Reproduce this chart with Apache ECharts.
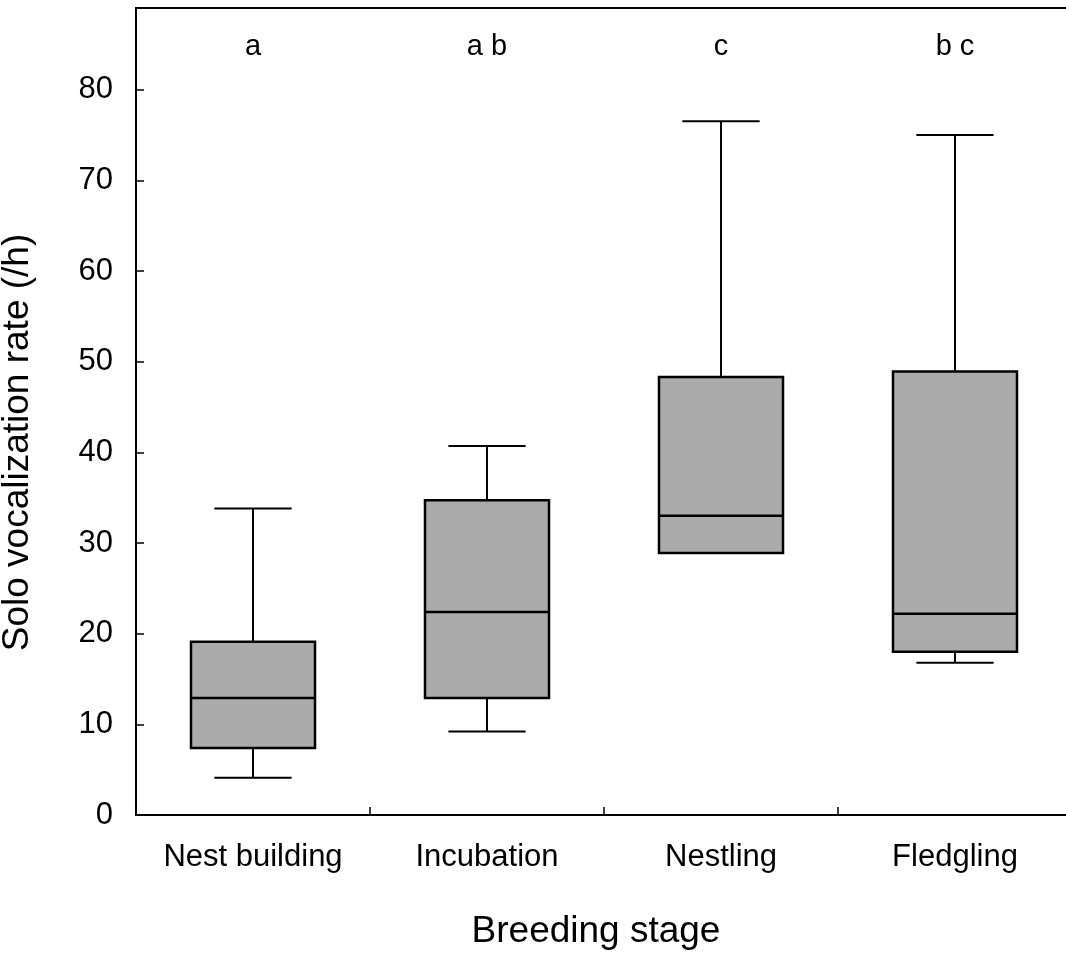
<!DOCTYPE html>
<html>
<head>
<meta charset="utf-8">
<title>Solo vocalization rate by breeding stage</title>
<script src="https://cdn.jsdelivr.net/npm/echarts@6/dist/echarts.min.js"></script>
<style>
  html, body { margin: 0; padding: 0; background: #ffffff; }
  #chart { width: 1066px; height: 953px; }
</style>
</head>
<body>
<div id="chart"></div>
<script>
// Breeding stages along the x axis
const stages = ['Nest building', 'Incubation', 'Nestling', 'Fledgling'];

// Five-number summaries per stage (/h)
const whiskerLow  = [4.1, 9.2, 28.9, 16.8];
const quartile1   = [7.4, 12.9, 28.9, 18.0];
const medians     = [12.9, 22.4, 33.0, 22.2];
const quartile3   = [19.1, 34.7, 48.3, 48.9];
const whiskerHigh = [33.8, 40.7, 76.5, 75.0];

// Post-hoc grouping letters above each stage
const groupLetters = ['a', 'a b', 'c', 'b c'];
const letterLevel = 84.7;

// Y axis tick values
const yTicks = [0, 10, 20, 30, 40, 50, 60, 70, 80];

const FONT = '"Liberation Sans", Arial, Helvetica, sans-serif';

const boxData = stages.map((s, i) => [i, whiskerLow[i], quartile1[i], medians[i], quartile3[i], whiskerHigh[i]]);
const letterData = groupLetters.map((t, i) => [i, letterLevel]);

function renderBox(params, api) {
  const idx = api.value(0);
  const band = api.size([1, 0])[0];
  const cx = api.coord([idx, 0])[0];
  const boxHalf = band * 0.265;
  const capHalf = band * 0.165;
  const yLo = api.coord([idx, api.value(1)])[1];
  const yQ1 = api.coord([idx, api.value(2)])[1];
  const yMed = api.coord([idx, api.value(3)])[1];
  const yQ3 = api.coord([idx, api.value(4)])[1];
  const yHi = api.coord([idx, api.value(5)])[1];
  const line = { stroke: '#000', lineWidth: 2 };
  const children = [];
  // whiskers and caps
  if (yLo - yQ1 > 0.5) {
    children.push({ type: 'line', shape: { x1: cx, y1: yQ1, x2: cx, y2: yLo }, style: line });
    children.push({ type: 'line', shape: { x1: cx - capHalf, y1: yLo, x2: cx + capHalf, y2: yLo }, style: line });
  }
  if (yQ3 - yHi > 0.5) {
    children.push({ type: 'line', shape: { x1: cx, y1: yQ3, x2: cx, y2: yHi }, style: line });
    children.push({ type: 'line', shape: { x1: cx - capHalf, y1: yHi, x2: cx + capHalf, y2: yHi }, style: line });
  }
  // interquartile box
  children.push({
    type: 'rect',
    shape: { x: cx - boxHalf, y: yQ3, width: boxHalf * 2, height: yQ1 - yQ3 },
    style: { fill: '#ababab', stroke: '#000', lineWidth: 2.5 }
  });
  // median
  children.push({ type: 'line', shape: { x1: cx - boxHalf, y1: yMed, x2: cx + boxHalf, y2: yMed }, style: { stroke: '#000', lineWidth: 2.5 } });
  return { type: 'group', children: children };
}

function renderLetter(params, api) {
  const pt = api.coord([api.value(0), api.value(1)]);
  return {
    type: 'text',
    x: pt[0],
    y: pt[1],
    style: {
      text: groupLetters[params.dataIndex],
      fill: '#000',
      fontSize: 29,
      fontFamily: FONT,
      align: 'center',
      verticalAlign: 'middle'
    }
  };
}

const chart = echarts.init(document.getElementById('chart'), null, { renderer: 'canvas' });

chart.setOption({
  animation: false,
  backgroundColor: '#ffffff',
  textStyle: { fontFamily: FONT, color: '#000' },
  grid: { left: 136, right: -6, top: 8, bottom: 138, containLabel: false, outerBoundsMode: 'none' },
  xAxis: [
    {
      type: 'category',
      data: stages,
      position: 'bottom',
      axisLine: { show: true, lineStyle: { color: '#000', width: 2 } },
      axisTick: { show: true, inside: true, length: 8, lineStyle: { color: '#000', width: 1.5 } },
      axisLabel: { color: '#000', fontSize: 31, fontFamily: FONT, margin: 27 },
      splitLine: { show: false },
      name: 'Breeding stage',
      nameLocation: 'middle',
      nameGap: 98,
      nameTextStyle: { color: '#000', fontSize: 37, fontFamily: FONT, padding: [0, 16, 0, 0] }
    },
    {
      type: 'category',
      data: stages,
      position: 'top',
      axisLine: { show: true, lineStyle: { color: '#000', width: 2 } },
      axisTick: { show: false },
      axisLabel: { show: false },
      splitLine: { show: false }
    }
  ],
  yAxis: {
    type: 'value',
    min: 0,
    max: 89,
    interval: 10,
    axisLine: { show: true, lineStyle: { color: '#000', width: 2 } },
    axisTick: { show: true, inside: true, length: 8, lineStyle: { color: '#000', width: 1.5 } },
    axisLabel: {
      color: '#000', fontSize: 31, fontFamily: FONT, margin: 23,
      formatter: v => (yTicks.indexOf(v) >= 0 ? String(v) : '')
    },
    splitLine: { show: false },
    name: 'Solo vocalization rate (/h)',
    nameLocation: 'middle',
    nameGap: 100,
    nameRotate: 90,
    nameTextStyle: { color: '#000', fontSize: 37, fontFamily: FONT, padding: [0, 62, 0, 0] }
  },
  series: [
    {
      type: 'custom',
      xAxisIndex: 0,
      renderItem: renderBox,
      encode: { x: 0, y: [1, 2, 3, 4, 5] },
      data: boxData,
      z: 3
    },
    {
      type: 'custom',
      xAxisIndex: 0,
      renderItem: renderLetter,
      encode: { x: 0, y: 1 },
      data: letterData,
      silent: true
    }
  ]
});
</script>
</body>
</html>
